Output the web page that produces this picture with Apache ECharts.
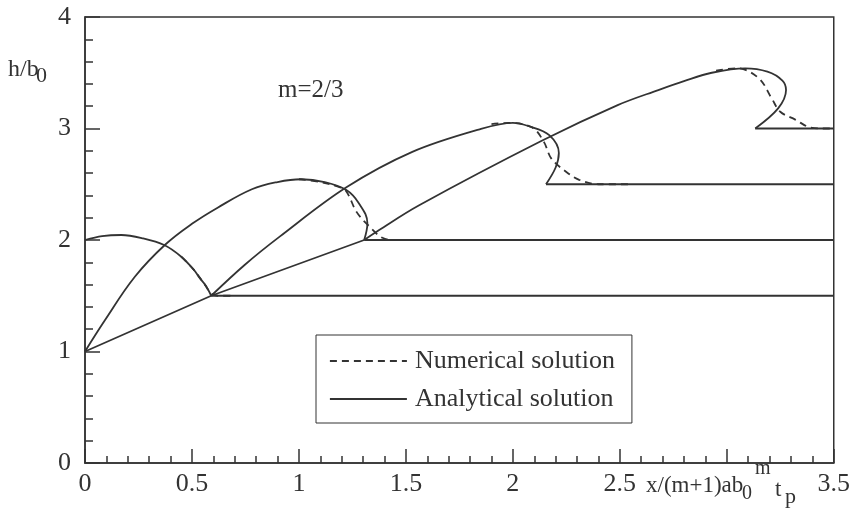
<!DOCTYPE html>
<html>
<head>
<meta charset="utf-8">
<script src="https://cdn.jsdelivr.net/npm/echarts@6/dist/echarts.min.js"></script>
<style>html,body{margin:0;padding:0;background:#fff;}#c{width:853px;height:518px;}</style>
</head>
<body>
<div id="c"></div>
<script>
// ---- tick labels ----
const xTickValues = [0, 0.5, 1, 1.5, 2, 2.5, 3, 3.5];
const xTickLabels = ['0', '0.5', '1', '1.5', '2', '2.5', '', '3.5'];
const yTickValues = [0, 1, 2, 3, 4];
const yTickLabels = ['0', '1', '2', '3', '4'];

// ---- analytical solution (solid) ----
const anaA = [[0, 2.0], [0.08, 2.035], [0.17, 2.045], [0.27, 2.015], [0.37, 1.955], [0.45, 1.85], [0.51, 1.73], [0.536, 1.66], [0.565, 1.59], [0.59, 1.5]];
const anaB = [[0, 1.0], [0.093, 1.28], [0.233, 1.67], [0.373, 1.955], [0.5, 2.145], [0.62, 2.29], [0.78, 2.455], [0.9, 2.52], [1.01, 2.545], [1.12, 2.52], [1.22, 2.45], [1.28, 2.33], [1.32, 2.15], [1.305, 2.0]];
const anaC = [[0.59, 1.5], [0.746, 1.776], [0.91, 2.03], [1.22, 2.47], [1.53, 2.79], [1.84, 2.99], [2.0, 3.05], [2.075, 3.02], [2.17, 2.94], [2.215, 2.78], [2.2, 2.65], [2.155, 2.5]];
const anaD = [[1.305, 2.0], [1.375, 2.09], [1.56, 2.31], [2.135, 2.89], [2.49, 3.21], [2.68, 3.345], [2.8, 3.425], [2.93, 3.5], [3.086, 3.54], [3.19, 3.51], [3.26, 3.43], [3.277, 3.345], [3.24, 3.18], [3.133, 3.0]];
const frontLine = [[0, 1.0], [0.59, 1.5], [1.305, 2.0]];
const plateau15 = [[0.59, 1.5], [3.5, 1.5]];
const plateau20 = [[1.305, 2.0], [3.5, 2.0]];
const plateau25 = [[2.155, 2.5], [3.5, 2.5]];
const plateau30 = [[3.133, 3.0], [3.5, 3.0]];

// ---- numerical solution (dashed) ----
const numA = [[0.45, 1.85], [0.51, 1.73], [0.56, 1.6], [0.59, 1.52], [0.62, 1.5], [0.7, 1.5]];
const numB = [[1.0, 2.545], [1.1, 2.52], [1.18, 2.48], [1.22, 2.44], [1.27, 2.25], [1.33, 2.12], [1.39, 2.02], [1.45, 2.0], [1.6, 2.0]];
const numC = [[1.9, 3.04], [1.98, 3.05], [2.09, 3.01], [2.145, 2.88], [2.18, 2.73], [2.25, 2.61], [2.31, 2.54], [2.4, 2.5], [2.55, 2.5]];
const numD = [[2.95, 3.52], [3.05, 3.54], [3.15, 3.45], [3.21, 3.27], [3.25, 3.15], [3.32, 3.08], [3.39, 3.01], [3.47, 3.0], [3.5, 3.0]];

const INK = '#333';
const SERIF = '"Liberation Serif", "DejaVu Serif", serif';
const NUM = 'Numerical solution';
const ANA = 'Analytical solution';

function ana(data, smooth) {
  return { name: ANA, type: 'line', data: data, smooth: smooth || false, showSymbol: false, symbol: 'none',
    lineStyle: { color: INK, width: 1.8 }, itemStyle: { color: INK }, z: 3 };
}
function num(data) {
  return { name: NUM, type: 'line', data: data, smooth: 0.35, showSymbol: false, symbol: 'none',
    lineStyle: { color: INK, width: 1.8, type: [7, 5] }, itemStyle: { color: INK }, z: 2 };
}

const chart = echarts.init(document.getElementById('c'), null, { renderer: 'canvas' });
const option = {
  animation: false,
  backgroundColor: '#fff',
  grid: { left: 85, right: 18, top: 17, bottom: 55, show: true, borderColor: INK, borderWidth: 1.5, backgroundColor: 'transparent' },
  xAxis: {
    type: 'value', min: 0, max: 3.5, interval: 0.5,
    axisLine: { show: true, lineStyle: { color: INK, width: 1.5 } },
    axisTick: { show: true, inside: true, length: 14, lineStyle: { color: INK, width: 1.5 } },
    minorTick: { show: true, splitNumber: 5, length: 7, lineStyle: { color: INK, width: 1.5 } },
    splitLine: { show: false },
    axisLabel: {
      margin: 8, fontSize: 26, fontFamily: SERIF, color: INK,
      formatter: function (v) { const i = xTickValues.findIndex(t => Math.abs(t - v) < 1e-9); return i >= 0 ? xTickLabels[i] : ''; }
    }
  },
  yAxis: {
    type: 'value', min: 0, max: 4, interval: 1,
    axisLine: { show: true, lineStyle: { color: INK, width: 1.5 } },
    axisTick: { show: true, inside: true, length: 15, lineStyle: { color: INK, width: 1.5 } },
    minorTick: { show: true, splitNumber: 5, length: 8, lineStyle: { color: INK, width: 1.5 } },
    splitLine: { show: false },
    axisLabel: {
      margin: 14, fontSize: 26, fontFamily: SERIF, color: INK,
      formatter: function (v) { const i = yTickValues.findIndex(t => Math.abs(t - v) < 1e-9); return i >= 0 ? yTickLabels[i] : ''; }
    }
  },
  legend: {
    show: true, orient: 'vertical', left: 316, top: 335, selectedMode: false,
    padding: [13, 17, 11, 13], itemGap: 12, itemWidth: 77, itemHeight: 14,
    borderColor: INK, borderWidth: 1, backgroundColor: '#fff',
    itemStyle: { color: 'transparent', borderWidth: 0, opacity: 0 },
    lineStyle: { color: INK, width: 1.8 },
    textStyle: { fontSize: 26, fontFamily: SERIF, color: INK, padding: [0, 0, 0, 3] },
    data: [NUM, ANA]
  },
  graphic: [
    { type: 'text', x: 8, y: 58, style: { text: 'h/b', font: '24px ' + SERIF, fill: INK, verticalAlign: 'top' } },
    { type: 'text', x: 36, y: 65, style: { text: '0', font: '22px ' + SERIF, fill: INK, verticalAlign: 'top' } },
    { type: 'text', x: 278, y: 78, style: { text: 'm=2/3', font: '25px ' + SERIF, fill: INK, verticalAlign: 'top' } },
    { type: 'text', x: 646, y: 474, style: { text: 'x/(m+1)ab', font: '23px ' + SERIF, fill: INK, verticalAlign: 'top' } },
    { type: 'text', x: 742, y: 484, style: { text: '0', font: '20px ' + SERIF, fill: INK, verticalAlign: 'top' } },
    { type: 'text', x: 755, y: 459, style: { text: 'm', font: '20px ' + SERIF, fill: INK, verticalAlign: 'top' } },
    { type: 'text', x: 775, y: 478, style: { text: 't', font: '23px ' + SERIF, fill: INK, verticalAlign: 'top' } },
    { type: 'text', x: 785, y: 486, style: { text: 'p', font: '22px ' + SERIF, fill: INK, verticalAlign: 'top' } }
  ],
  series: [
    num(numA), num(numB), num(numC), num(numD),
    ana(anaA, 0.35), ana(anaB, 0.4), ana(anaC, 0.35), ana(anaD, 0.35),
    ana(frontLine, false),
    ana(plateau15, false), ana(plateau20, false), ana(plateau25, false), ana(plateau30, false)
  ]
};
chart.setOption(option);
</script>
</body>
</html>
